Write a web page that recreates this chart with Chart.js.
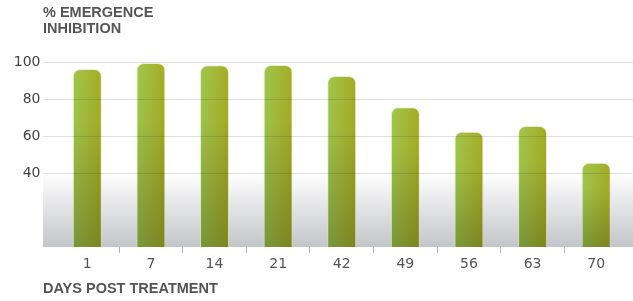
<!DOCTYPE html>
<html>
<head>
<meta charset="utf-8">
<script src="https://cdn.jsdelivr.net/npm/chart.js@4/dist/chart.umd.min.js"></script>
<style>
  html, body { margin: 0; padding: 0; background: #ffffff; }
  #wrap { position: relative; width: 633px; height: 301px; }
</style>
</head>
<body>
<div id="wrap"><canvas id="c" width="633" height="301"></canvas></div>
<script>
const categories = ['1', '7', '14', '21', '42', '49', '56', '63', '70'];
const inhibition = [96.2, 99.5, 98.2, 98.4, 92.4, 75.5, 62.3, 65.4, 45.6];
const yTickValues = [40, 60, 80, 100];
const yTitleLines = ['% EMERGENCE', 'INHIBITION'];
const xTitleText = 'DAYS POST TREATMENT';

const BAR_PCT = 0.456;
const TITLE_FONT = 'bold 14.5px "Liberation Sans", Arial, sans-serif';

let fillCache = { key: null, pattern: null };
function barFill(context) {
  const chart = context.chart;
  const xs = chart.scales.x, ys = chart.scales.y;
  if (!chart.chartArea || !xs || !ys) return '#98b83a';
  const key = [chart.width, chart.height, xs.left, xs.right, ys.top, ys.bottom].join('|');
  if (fillCache.key === key) return fillCache.pattern;
  const off = document.createElement('canvas');
  off.width = chart.width; off.height = chart.height;
  const o = off.getContext('2d');
  const half = xs.width / categories.length * BAR_PCT / 2;
  const base = ys.getPixelForValue(0);
  categories.forEach((c, i) => {
    const cx = xs.getPixelForValue(i);
    const top = ys.getPixelForValue(inhibition[i]);
    const h = o.createLinearGradient(cx - half, 0, cx + half, 0);
    h.addColorStop(0, '#a0c74c');
    h.addColorStop(0.5, '#a3b93a');
    h.addColorStop(1, '#a4ab21');
    o.fillStyle = h;
    o.fillRect(cx - half - 2, top - 2, 2 * half + 4, base - top + 4);
    const v = o.createLinearGradient(0, top, 0, base);
    v.addColorStop(0, 'rgba(35,40,15,0)');
    v.addColorStop(0.3, 'rgba(35,40,15,0.02)');
    v.addColorStop(1, 'rgba(35,40,15,0.3)');
    o.fillStyle = v;
    o.fillRect(cx - half - 2, top - 2, 2 * half + 4, base - top + 4);
  });
  fillCache = { key, pattern: chart.ctx.createPattern(off, 'no-repeat') };
  return fillCache.pattern;
}

const decorPlugin = {
  id: 'decor',
  beforeDatasetsDraw(chart) {
    const ctx = chart.ctx, ys = chart.scales.y;
    const top = ys.getPixelForValue(40), base = ys.getPixelForValue(0);
    const g = ctx.createLinearGradient(0, top, 0, base);
    g.addColorStop(0, '#ffffff');
    g.addColorStop(1, '#c4c5c9');
    ctx.save();
    ctx.fillStyle = g;
    ctx.fillRect(43, top, chart.width - 43, base - top);
    ctx.restore();
  },
  afterDatasetsDraw(chart) {
    const ctx = chart.ctx, ys = chart.scales.y;
    ctx.save();
    ctx.strokeStyle = 'rgba(0,0,0,0.12)';
    ctx.lineWidth = 1;
    yTickValues.forEach(v => {
      const y = Math.round(ys.getPixelForValue(v)) + 0.5;
      ctx.beginPath();
      ctx.moveTo(43, y);
      ctx.lineTo(chart.width, y);
      ctx.stroke();
    });
    ctx.restore();
  },
  afterDraw(chart) {
    const ctx = chart.ctx;
    ctx.save();
    ctx.font = TITLE_FONT;
    ctx.fillStyle = '#555555';
    ctx.textBaseline = 'middle';
    ctx.textAlign = 'left';
    ctx.fillText(yTitleLines[0], 43, 12.5);
    ctx.fillText(yTitleLines[1], 43, 28.5);
    ctx.fillText(xTitleText, 43, 289);
    ctx.restore();
  }
};

new Chart(document.getElementById('c'), {
  type: 'bar',
  data: {
    labels: categories,
    datasets: [{
      data: inhibition,
      backgroundColor: barFill,
      borderColor: 'rgba(215,232,170,0.6)',
      borderWidth: 1,
      borderRadius: 7,
      borderSkipped: 'bottom',
      barPercentage: BAR_PCT,
      categoryPercentage: 1
    }]
  },
  options: {
    responsive: false,
    animation: false,
    events: [],
    layout: { padding: { top: 62, right: 5, left: 0, bottom: 0 } },
    plugins: { legend: { display: false }, tooltip: { enabled: false }, title: { display: false } },
    scales: {
      x: {
        offset: true,
        grid: {
          offset: true,
          drawOnChartArea: false,
          drawTicks: true,
          tickLength: 6,
          color: c => (c.type === 'tick' && c.index > 0) ? '#b5b5b5' : 'rgba(0,0,0,0)',
          tickColor: c => (c.type === 'tick' && c.index > 0) ? '#b5b5b5' : 'rgba(0,0,0,0)'
        },
        border: { display: false },
        ticks: { color: '#555555', font: { family: '"DejaVu Sans"', size: 14 }, padding: 3, maxRotation: 0 },
        afterFit: s => { s.height = 54; }
      },
      y: {
        min: 0,
        max: 100,
        grid: { display: false, drawTicks: false },
        border: { display: false },
        ticks: {
          stepSize: 20,
          padding: 15,
          color: '#444444',
          font: { family: '"DejaVu Sans"', size: 14 },
          callback: v => yTickValues.includes(v) ? String(v) : ''
        },
        afterFit: s => { s.width = 55.5; }
      }
    }
  },
  plugins: [decorPlugin]
});
</script>
</body>
</html>
